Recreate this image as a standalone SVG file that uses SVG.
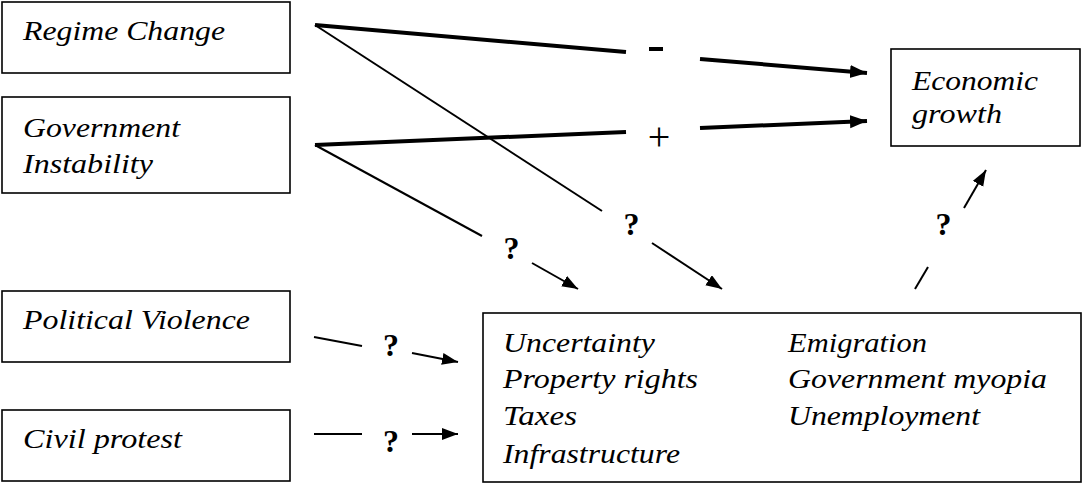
<svg xmlns="http://www.w3.org/2000/svg" width="1083" height="483" viewBox="0 0 1083 483">
<style>
.box{fill:#fff;stroke:#000;stroke-width:1.6}
.t{font-family:'Liberation Serif',serif;font-style:italic;font-size:27px;fill:#000}
.q{font-family:'Liberation Serif',serif;font-weight:bold;font-size:32px;fill:#000;text-anchor:middle}
.thick{stroke:#000;stroke-width:4;fill:none}
.thin{stroke:#000;stroke-width:2;fill:none}
</style>
<defs>
<marker id="ah" markerUnits="userSpaceOnUse" markerWidth="18" markerHeight="14" refX="17" refY="6.5" orient="auto">
<path d="M0,0 L17,6.5 L0,13 z" fill="#000"/>
</marker>
<marker id="ahs" markerUnits="userSpaceOnUse" markerWidth="18" markerHeight="14" refX="16" refY="6" orient="auto">
<path d="M0,0 L16,6 L0,12 z" fill="#000"/>
</marker>
</defs>
<rect width="1083" height="483" fill="#fff"/>
<g id="regime-change">
<rect class="box" x="2" y="2" width="288" height="71"/>
<text class="t" x="23" y="40" textLength="202" lengthAdjust="spacingAndGlyphs">Regime Change</text>
</g>
<g id="government-instability">
<rect class="box" x="2" y="97" width="288" height="96"/>
<text class="t" x="23" y="137" textLength="157" lengthAdjust="spacingAndGlyphs">Government</text>
<text class="t" x="23" y="173" textLength="130" lengthAdjust="spacingAndGlyphs">Instability</text>
</g>
<g id="political-violence">
<rect class="box" x="2" y="291" width="288" height="71"/>
<text class="t" x="23" y="329" textLength="227" lengthAdjust="spacingAndGlyphs">Political Violence</text>
</g>
<g id="civil-protest">
<rect class="box" x="2" y="410" width="288" height="71"/>
<text class="t" x="23" y="448" textLength="159" lengthAdjust="spacingAndGlyphs">Civil protest</text>
</g>
<g id="economic-growth">
<rect class="box" x="891" y="49" width="189" height="97"/>
<text class="t" x="912" y="90" textLength="126" lengthAdjust="spacingAndGlyphs">Economic</text>
<text class="t" x="912" y="123" textLength="90" lengthAdjust="spacingAndGlyphs">growth</text>
</g>
<g id="channels">
<rect class="box" x="483" y="313" width="598" height="169"/>
<text class="t" x="503" y="352" textLength="152" lengthAdjust="spacingAndGlyphs">Uncertainty</text>
<text class="t" x="503" y="388" textLength="195" lengthAdjust="spacingAndGlyphs">Property rights</text>
<text class="t" x="503" y="425" textLength="74" lengthAdjust="spacingAndGlyphs">Taxes</text>
<text class="t" x="503" y="463" textLength="177" lengthAdjust="spacingAndGlyphs">Infrastructure</text>
<text class="t" x="788" y="352" textLength="139" lengthAdjust="spacingAndGlyphs">Emigration</text>
<text class="t" x="788" y="388" textLength="259" lengthAdjust="spacingAndGlyphs">Government myopia</text>
<text class="t" x="788" y="425" textLength="192" lengthAdjust="spacingAndGlyphs">Unemployment</text>
</g>
<g id="connectors">
<line class="thick" x1="315" y1="25" x2="626" y2="52"/>
<line class="thick" x1="700" y1="59" x2="867" y2="73" marker-end="url(#ah)"/>
<rect x="649" y="47" width="14" height="4" fill="#000"/>
<line class="thick" x1="315" y1="145" x2="626" y2="132"/>
<line class="thick" x1="700" y1="128" x2="867" y2="121" marker-end="url(#ah)"/>
<text x="659" y="150" font-family="'Liberation Serif', serif" font-size="40" text-anchor="middle" fill="#000">+</text>
<line class="thin" x1="315" y1="25" x2="602" y2="211"/>
<line class="thin" x1="652" y1="243" x2="722" y2="289" marker-end="url(#ahs)"/>
<text class="q" x="631.5" y="235">?</text>
<line class="thin" x1="315" y1="145" x2="482" y2="236"/>
<line class="thin" x1="532" y1="263" x2="578" y2="289" marker-end="url(#ahs)"/>
<text class="q" x="511.5" y="259">?</text>
<line class="thin" x1="314" y1="337" x2="362" y2="346"/>
<line class="thin" x1="412" y1="353" x2="458" y2="362" marker-end="url(#ahs)"/>
<text class="q" x="391" y="356">?</text>
<line class="thin" x1="314" y1="434" x2="362" y2="434"/>
<line class="thin" x1="412" y1="434" x2="458" y2="434" marker-end="url(#ahs)"/>
<text class="q" x="391" y="452">?</text>
<line class="thin" x1="915" y1="289" x2="928" y2="267"/>
<line class="thin" x1="964" y1="208" x2="986" y2="170" marker-end="url(#ahs)"/>
<text class="q" x="943.5" y="235">?</text>
</g>
</svg>
